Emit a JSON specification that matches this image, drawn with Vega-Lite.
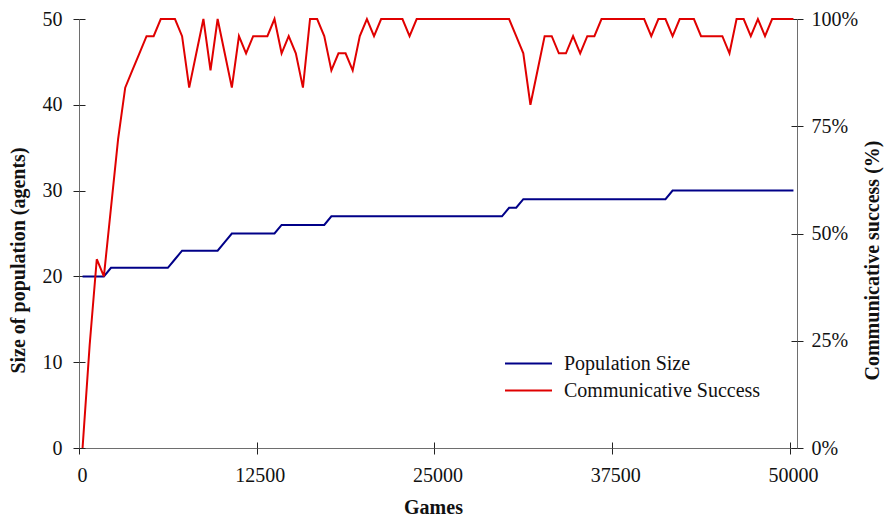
{
  "$schema": "https://vega.github.io/schema/vega-lite/v6.json",
  "autosize": {"type": "none"},
  "padding": {"left": 79, "top": 19, "right": 87, "bottom": 70},
  "width": 718,
  "height": 429,
  "config": {
    "font": "Liberation Serif",
    "view": {"stroke": null},
    "axis": {
      "labelFont": "Liberation Serif",
      "labelFontSize": 20,
      "labelColor": "#111111",
      "titleFont": "Liberation Serif",
      "titleFontSize": 20,
      "titleFontWeight": "bold",
      "titleColor": "#111111",
      "domainColor": "#6e6e6e",
      "domainWidth": 1,
      "tickColor": "#222222",
      "tickSize": 6,
      "grid": false,
      "labelFlush": false,
      "labelOverlap": false
    },
    "legend": {
      "orient": "none",
      "legendX": 425,
      "legendY": 332,
      "padding": 0,
      "symbolType": "stroke",
      "symbolSize": 2209,
      "symbolStrokeWidth": 2,
      "labelFont": "Liberation Serif",
      "labelFontSize": 20,
      "labelColor": "#111111",
      "labelOffset": 11,
      "labelLimit": 400,
      "clipHeight": 25,
      "rowPadding": 2
    }
  },
  "data": {
    "values": [
      {"games": 250, "population": 20, "success": 0},
      {"games": 750, "population": 20, "success": 24},
      {"games": 1250, "population": 20, "success": 44},
      {"games": 1750, "population": 20, "success": 40},
      {"games": 2250, "population": 21, "success": 56},
      {"games": 2750, "population": 21, "success": 72},
      {"games": 3250, "population": 21, "success": 84},
      {"games": 3750, "population": 21, "success": 88},
      {"games": 4250, "population": 21, "success": 92},
      {"games": 4750, "population": 21, "success": 96},
      {"games": 5250, "population": 21, "success": 96},
      {"games": 5750, "population": 21, "success": 100},
      {"games": 6250, "population": 21, "success": 100},
      {"games": 6750, "population": 22, "success": 100},
      {"games": 7250, "population": 23, "success": 96},
      {"games": 7750, "population": 23, "success": 84},
      {"games": 8250, "population": 23, "success": 92},
      {"games": 8750, "population": 23, "success": 100},
      {"games": 9250, "population": 23, "success": 88},
      {"games": 9750, "population": 23, "success": 100},
      {"games": 10250, "population": 24, "success": 92},
      {"games": 10750, "population": 25, "success": 84},
      {"games": 11250, "population": 25, "success": 96},
      {"games": 11750, "population": 25, "success": 92},
      {"games": 12250, "population": 25, "success": 96},
      {"games": 12750, "population": 25, "success": 96},
      {"games": 13250, "population": 25, "success": 96},
      {"games": 13750, "population": 25, "success": 100},
      {"games": 14250, "population": 26, "success": 92},
      {"games": 14750, "population": 26, "success": 96},
      {"games": 15250, "population": 26, "success": 92},
      {"games": 15750, "population": 26, "success": 84},
      {"games": 16250, "population": 26, "success": 100},
      {"games": 16750, "population": 26, "success": 100},
      {"games": 17250, "population": 26, "success": 96},
      {"games": 17750, "population": 27, "success": 88},
      {"games": 18250, "population": 27, "success": 92},
      {"games": 18750, "population": 27, "success": 92},
      {"games": 19250, "population": 27, "success": 88},
      {"games": 19750, "population": 27, "success": 96},
      {"games": 20250, "population": 27, "success": 100},
      {"games": 20750, "population": 27, "success": 96},
      {"games": 21250, "population": 27, "success": 100},
      {"games": 21750, "population": 27, "success": 100},
      {"games": 22250, "population": 27, "success": 100},
      {"games": 22750, "population": 27, "success": 100},
      {"games": 23250, "population": 27, "success": 96},
      {"games": 23750, "population": 27, "success": 100},
      {"games": 24250, "population": 27, "success": 100},
      {"games": 24750, "population": 27, "success": 100},
      {"games": 25250, "population": 27, "success": 100},
      {"games": 25750, "population": 27, "success": 100},
      {"games": 26250, "population": 27, "success": 100},
      {"games": 26750, "population": 27, "success": 100},
      {"games": 27250, "population": 27, "success": 100},
      {"games": 27750, "population": 27, "success": 100},
      {"games": 28250, "population": 27, "success": 100},
      {"games": 28750, "population": 27, "success": 100},
      {"games": 29250, "population": 27, "success": 100},
      {"games": 29750, "population": 27, "success": 100},
      {"games": 30250, "population": 28, "success": 100},
      {"games": 30750, "population": 28, "success": 96},
      {"games": 31250, "population": 29, "success": 92},
      {"games": 31750, "population": 29, "success": 80},
      {"games": 32250, "population": 29, "success": 88},
      {"games": 32750, "population": 29, "success": 96},
      {"games": 33250, "population": 29, "success": 96},
      {"games": 33750, "population": 29, "success": 92},
      {"games": 34250, "population": 29, "success": 92},
      {"games": 34750, "population": 29, "success": 96},
      {"games": 35250, "population": 29, "success": 92},
      {"games": 35750, "population": 29, "success": 96},
      {"games": 36250, "population": 29, "success": 96},
      {"games": 36750, "population": 29, "success": 100},
      {"games": 37250, "population": 29, "success": 100},
      {"games": 37750, "population": 29, "success": 100},
      {"games": 38250, "population": 29, "success": 100},
      {"games": 38750, "population": 29, "success": 100},
      {"games": 39250, "population": 29, "success": 100},
      {"games": 39750, "population": 29, "success": 100},
      {"games": 40250, "population": 29, "success": 96},
      {"games": 40750, "population": 29, "success": 100},
      {"games": 41250, "population": 29, "success": 100},
      {"games": 41750, "population": 30, "success": 96},
      {"games": 42250, "population": 30, "success": 100},
      {"games": 42750, "population": 30, "success": 100},
      {"games": 43250, "population": 30, "success": 100},
      {"games": 43750, "population": 30, "success": 96},
      {"games": 44250, "population": 30, "success": 96},
      {"games": 44750, "population": 30, "success": 96},
      {"games": 45250, "population": 30, "success": 96},
      {"games": 45750, "population": 30, "success": 92},
      {"games": 46250, "population": 30, "success": 100},
      {"games": 46750, "population": 30, "success": 100},
      {"games": 47250, "population": 30, "success": 96},
      {"games": 47750, "population": 30, "success": 100},
      {"games": 48250, "population": 30, "success": 96},
      {"games": 48750, "population": 30, "success": 100},
      {"games": 49250, "population": 30, "success": 100},
      {"games": 49750, "population": 30, "success": 100},
      {"games": 50250, "population": 30, "success": 100}
    ]
  },
  "layer": [
    {
      "mark": {"type": "line", "strokeWidth": 2},
      "encoding": {
        "x": {
          "field": "games",
          "type": "quantitative",
          "scale": {"domain": [0, 50500], "nice": false, "zero": false},
          "axis": {
            "orient": "bottom",
            "values": [0, 12500, 25000, 37500, 50000],
            "format": "d",
            "title": "Games",
            "labelPadding": 11,
            "labelOffset": 3,
            "titlePadding": 12,
            "titleX": 354
          }
        },
        "y": {
          "field": "population",
          "type": "quantitative",
          "scale": {"domain": [0, 50], "nice": false},
          "axis": {
            "orient": "left",
            "values": [0, 10, 20, 30, 40, 50],
            "title": "Size of population (agents)",
            "labelPadding": 11,
            "titlePadding": 14,
            "titleY": 241
          }
        },
        "color": {
          "datum": "Population Size",
          "type": "nominal",
          "scale": {"domain": ["Population Size", "Communicative Success"], "range": ["#000088", "#e00000"]},
          "legend": {"title": null}
        }
      }
    },
    {
      "mark": {"type": "line", "strokeWidth": 2},
      "encoding": {
        "x": {
          "field": "games",
          "type": "quantitative",
          "scale": {"domain": [0, 50500], "nice": false, "zero": false},
          "axis": null
        },
        "y": {
          "field": "success",
          "type": "quantitative",
          "scale": {"domain": [0, 100], "nice": false},
          "axis": {
            "orient": "right",
            "values": [0, 25, 50, 75, 100],
            "labelExpr": "datum.value + '%'",
            "title": "Communicative success (%)",
            "titleAngle": -90,
            "labelPadding": 8,
            "titlePadding": 25,
            "titleY": 241
          }
        },
        "color": {"datum": "Communicative Success", "type": "nominal"}
      }
    },
    {
      "mark": {"type": "point", "opacity": 0},
      "encoding": {
        "x": {
          "field": "games",
          "type": "quantitative",
          "scale": {"domain": [0, 50500], "nice": false, "zero": false},
          "axis": {"orient": "bottom", "values": [0, 12500, 25000, 37500, 50000], "tickSize": -6, "labels": false, "domain": false, "title": null}
        },
        "y": {
          "field": "population",
          "type": "quantitative",
          "scale": {"domain": [0, 50], "nice": false},
          "axis": {"orient": "left", "values": [0, 10, 20, 30, 40, 50], "tickSize": -6, "labels": false, "domain": false, "title": null}
        }
      }
    },
    {
      "mark": {"type": "point", "opacity": 0},
      "encoding": {
        "x": {
          "field": "games",
          "type": "quantitative",
          "scale": {"domain": [0, 50500], "nice": false, "zero": false},
          "axis": null
        },
        "y": {
          "field": "success",
          "type": "quantitative",
          "scale": {"domain": [0, 100], "nice": false},
          "axis": {"orient": "right", "values": [0, 25, 50, 75, 100], "tickSize": -6, "labels": false, "domain": false, "title": null}
        }
      }
    }
  ],
  "resolve": {
    "scale": {"x": "independent", "y": "independent"},
    "axis": {"x": "independent", "y": "independent"}
  }
}
